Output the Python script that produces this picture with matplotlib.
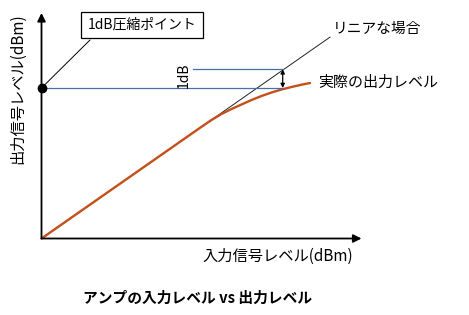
import numpy as np
import matplotlib.pyplot as plt

plt.rcParams['font.family'] = ['Noto Sans CJK JP', 'DejaVu Sans']

# input level / output level (arbitrary units, 10 px per unit)
gain = 0.698
linear_in = [0.0, 28.85]
actual_in = [0.0, 16.0, 17.0, 18.0, 19.0, 20.0, 21.0, 22.0, 23.0, 24.0, 25.0, 26.0, 26.85]
actual_out = [0.0, 11.17, 11.85, 12.45, 12.95, 13.4, 13.85, 14.25, 14.6, 14.9, 15.15, 15.38, 15.55]
p1db_in = 24.12
p1db_out = 15.05
lin_out_at_p1 = p1db_out + 1.87

x_max = 32.0
y_max = 22.55

fig = plt.figure(figsize=(4.69, 3.15), dpi=100)
ax = fig.add_axes([0, 0, 1, 1])
ax.set_xlim(-4.15, 42.75)
ax.set_ylim(-7.65, 23.85)
ax.axis('off')

# axes with arrows
ax.annotate('', xy=(x_max, 0), xytext=(0, 0),
            arrowprops=dict(arrowstyle='-|>', color='black', lw=1.3, mutation_scale=12, shrinkA=0, shrinkB=0))
ax.annotate('', xy=(0, y_max), xytext=(0, 0),
            arrowprops=dict(arrowstyle='-|>', color='black', lw=1.3, mutation_scale=12, shrinkA=0, shrinkB=0))

# linear (ideal) line
ax.plot(linear_in, [gain * v for v in linear_in], color='#222222', lw=0.7)
# actual output
ax.plot(actual_in, actual_out, color='#C4501A', lw=1.7, solid_capstyle='round')

# 1dB lines
ax.plot([0, p1db_in], [p1db_out, p1db_out], color='#4A6FA5', lw=0.9)
ax.plot([15.15, p1db_in], [lin_out_at_p1, lin_out_at_p1], color='#4A6FA5', lw=0.9)
ax.annotate('', xy=(p1db_in, lin_out_at_p1), xytext=(p1db_in, p1db_out),
            arrowprops=dict(arrowstyle='<|-|>', color='black', lw=0.9, mutation_scale=6, shrinkA=0, shrinkB=0))
ax.text(14.2, 16.3, '1dB', rotation=90, ha='center', va='center', fontsize=10)

# compression point
ax.plot([0], [p1db_out], 'o', color='black', ms=6, zorder=5)
ax.plot([0, 4.85], [p1db_out, 19.85], color='black', lw=0.7)
ax.text(10.05, 21.35, '1dB圧縮ポイント', ha='center', va='center', fontsize=10,
        bbox=dict(boxstyle='square,pad=0.45', fc='white', ec='black', lw=0.9))

ax.text(29.15, 21.0, 'リニアな場合', ha='left', va='center', fontsize=10.6)
ax.text(27.65, 15.55, '実際の出力レベル', ha='left', va='center', fontsize=10.8)

ax.text(16.1, -1.75, '入力信号レベル(dBm)', ha='left', va='center', fontsize=11)
ax.text(-2.35, 15.0, '出力信号レベル(dBm)', rotation=90, ha='center', va='center', fontsize=11)
ax.text(15.6, -5.95, 'アンプの入力レベル vs 出力レベル', ha='center', va='center',
        fontsize=10.6, fontweight='bold')

fig.savefig('out.png', dpi=100)
